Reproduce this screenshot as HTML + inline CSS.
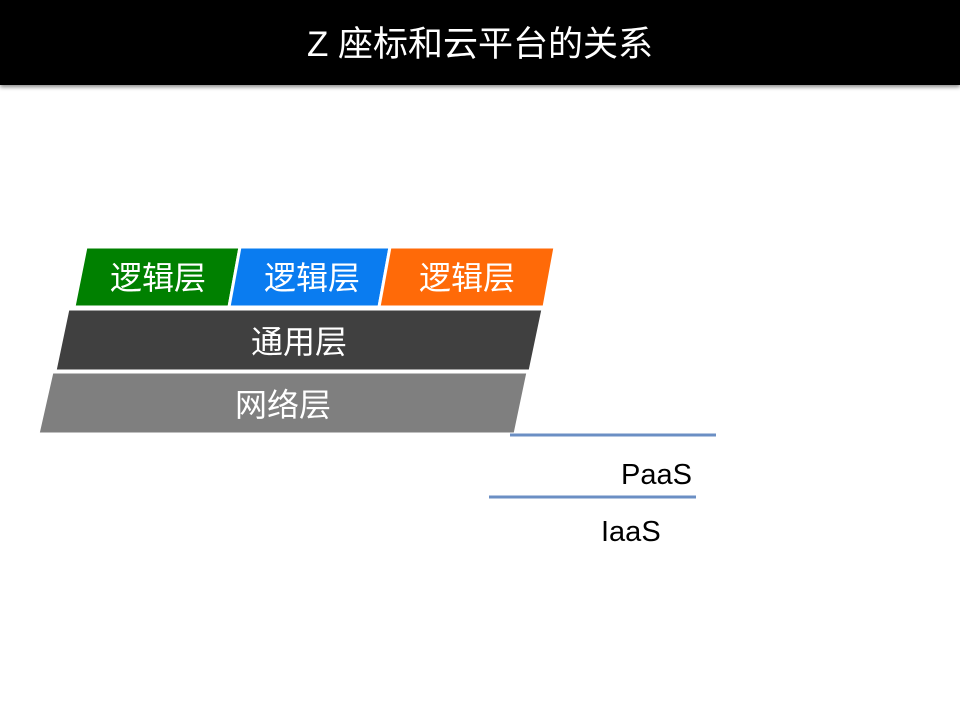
<!DOCTYPE html>
<html><head><meta charset="utf-8"><style>
body{margin:0;width:960px;height:720px;background:#fff;overflow:hidden;position:relative;font-family:"Liberation Sans","Noto Sans CJK SC",sans-serif}
.hd{position:absolute;left:0;top:0;width:960px;height:85px;background:#000;color:#fff;font-size:35px;text-align:center;line-height:90px;box-shadow:0 2px 4px #888}
svg{position:absolute;left:0;top:0}
</style></head><body>
<div class="hd">Z 座标和云平台的关系</div>
<svg width="960" height="720" font-family="Liberation Sans, Noto Sans CJK SC, sans-serif">
<g stroke="#fff" stroke-width="3">
<polygon points="86,247 240,247 229,307 74,307" fill="#008000"/>
<polygon points="240,247 390,247 379,307 229,307" fill="#0a7cf0"/>
<polygon points="390,247 555,247 544,307 379,307" fill="#ff6a08"/>
<polygon points="68,309 543,309 530,371 55,371" fill="#404040"/>
<polygon points="52,372 528,372 515,434 38,434" fill="#7f7f7f"/>
</g>
<g fill="#fff" font-size="32" text-anchor="middle">
<text x="158" y="289">逻辑层</text>
<text x="312" y="289">逻辑层</text>
<text x="467" y="289">逻辑层</text>
<text x="299" y="353">通用层</text>
<text x="283" y="416">网络层</text>
</g>
<line x1="510" y1="435" x2="716" y2="435" stroke="#6b8fc4" stroke-width="3"/>
<line x1="489" y1="497" x2="696" y2="497" stroke="#6b8fc4" stroke-width="3"/>
<g font-size="29" fill="#000">
<text x="692" y="484" text-anchor="end">PaaS</text>
<text x="601" y="541">IaaS</text>
</g>
</svg>
</body></html>
